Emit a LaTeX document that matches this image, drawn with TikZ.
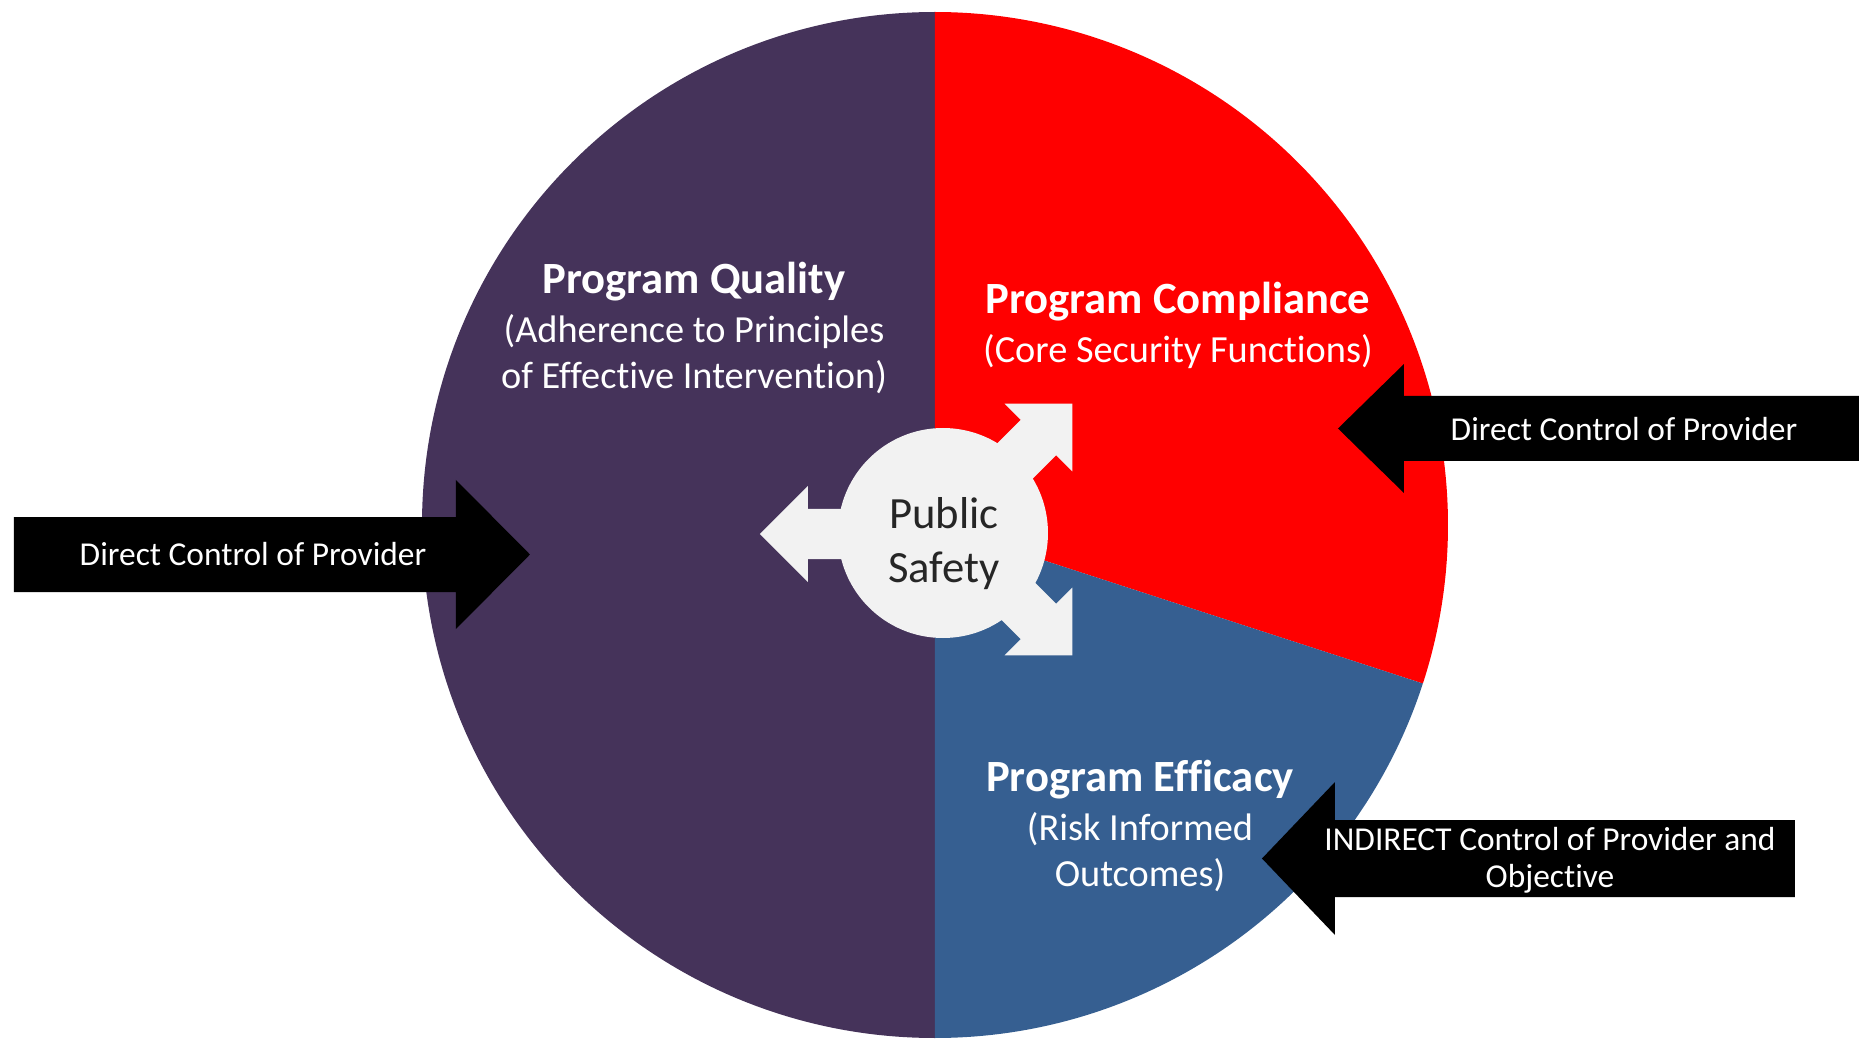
\documentclass[tikz,border=0pt]{standalone}
\usepackage{fontspec}
\setmainfont{Carlito}[Ligatures=NoCommon]
\definecolor{qualityfill}{HTML}{45335A}
\definecolor{compliancefill}{HTML}{FF0000}
\definecolor{efficacyfill}{HTML}{365F91}
\definecolor{safetyfill}{HTML}{F2F2F2}
\definecolor{safetytext}{HTML}{262626}
\tikzset{
  title/.style={text=white, inner sep=0pt, font=\bfseries\fontsize{12.7pt}{14pt}\selectfont},
  sub/.style={text=white, inner sep=0pt, align=center, font=\fontsize{10.9pt}{12.9pt}\selectfont},
  ctrl/.style={text=white, inner sep=0pt, align=center, font=\fontsize{9.5pt}{10.5pt}\selectfont},
}
\begin{document}
\begin{tikzpicture}[x=0.01cm, y=0.01cm]
\useasboundingbox (-935,-514) rectangle (924,525);
% pie
\fill[qualityfill] (0,0) -- (90:513) arc[start angle=90, end angle=270, radius=513] -- cycle;
\fill[compliancefill] (0,0) -- (-18:513) arc[start angle=-18, end angle=90, radius=513] -- cycle;
\fill[efficacyfill] (0,0) -- (-90:513) arc[start angle=-90, end angle=-18, radius=513] -- cycle;
%
\foreach \a/\dy in {180/-9,45/-8,-45/-1}
  \fill[safetyfill, shift={(8,\dy)}, rotate=\a] (0,-25) -- (135,-25) -- (135,-48) -- (183,0) -- (135,48) -- (135,25) -- (0,25) -- cycle;
\fill[safetyfill] (8,-8) circle[radius=105];
\node[text=safetytext, inner sep=0pt, align=center, font=\fontsize{12.7pt}{15.4pt}\selectfont] (safety) at (9,-19) {Public\\Safety};
%
\node[title] (quality) at (-241,243) {Program Quality};
\node[sub] (qualitysub) at (-241,171) {(Adherence to Principles\\of Effective Intervention)};
\node[title] (compliance) at (243,223) {Program Compliance};
\node[sub] (compliancesub) at (243,173) {(Core Security Functions)};
\node[title] (efficacy) at (205,-255) {Program Efficacy};
\node[sub] (efficacysub) at (205,-327) {(Risk Informed\\Outcomes)};
%
\fill[black] (-921,8) -- (-479,8) -- (-479,45) -- (-405,-29.5) -- (-479,-104) -- (-479,-67) -- (-921,-67) -- cycle;
\node[ctrl] (leftctrl) at (-682,-29) {Direct Control of Provider};
\fill[black] (924,129) -- (469,129) -- (469,161) -- (403,96.5) -- (469,32) -- (469,64) -- (924,64) -- cycle;
\node[ctrl] (rightctrl) at (689,96) {Direct Control of Provider};
\fill[black] (860,-295) -- (400,-295) -- (400,-257) -- (327,-333.5) -- (400,-410) -- (400,-372) -- (860,-372) -- cycle;
\node[ctrl] (indirectctrl) at (615,-335) {INDIRECT Control of Provider and\\Objective};
%   \node at (0,0) {};
\end{tikzpicture}
\end{document}
